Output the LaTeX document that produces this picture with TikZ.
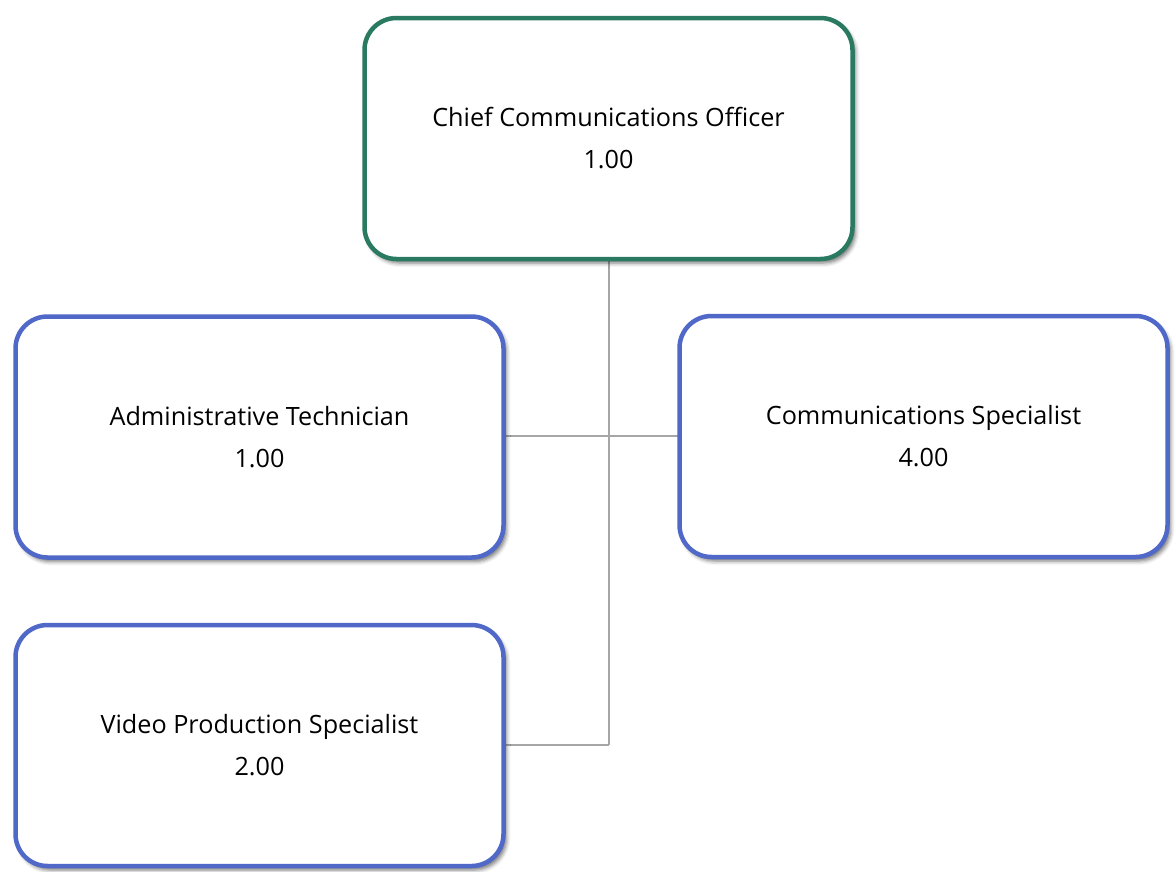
\documentclass[tikz,border=0pt]{standalone}
\usepackage{fontspec}
\setmainfont{Open Sans}
\usetikzlibrary{shadows.blur}
\definecolor{ceogreen}{HTML}{2A7A62}
\definecolor{boxblue}{HTML}{5068C8}
\definecolor{conngray}{HTML}{A6A6A6}
\tikzset{
  orgbox/.style={draw, line width=4.5pt, fill=white, rounded corners=32pt,
    minimum width=488pt, minimum height=241pt, inner sep=0pt,
    align=center, font=\fontsize{25.2}{42}\selectfont,
    blur shadow={shadow xshift=3pt, shadow yshift=-4pt, shadow blur radius=4pt, shadow opacity=55}},
  ceobox/.style={orgbox, draw=ceogreen},
  staffbox/.style={orgbox, draw=boxblue},
  conn/.style={draw=conngray, line width=2pt}
}
\begin{document}
\begin{tikzpicture}[x=1pt,y=-1pt]
\useasboundingbox (0,0) rectangle (1175,871);
\coordinate (jn) at (608.5,744.5);
\draw[conn] (608.5,260) -- (jn);
\draw[conn] (259.5,436) -- (923.5,436);
\draw[conn] (jn) -- (259.5,744.5);
\node[ceobox] (ceo) at (608.5,138.5) {Chief Communications Officer\\1.00};
\node[staffbox] (adm) at (259.5,437) {Administrative Technician\\1.00};
\node[staffbox] (cs) at (923.5,436.5) {Communications Specialist\\4.00};
\node[staffbox] (vps) at (259.5,745.5) {Video Production Specialist\\2.00};
\end{tikzpicture}
\end{document}
